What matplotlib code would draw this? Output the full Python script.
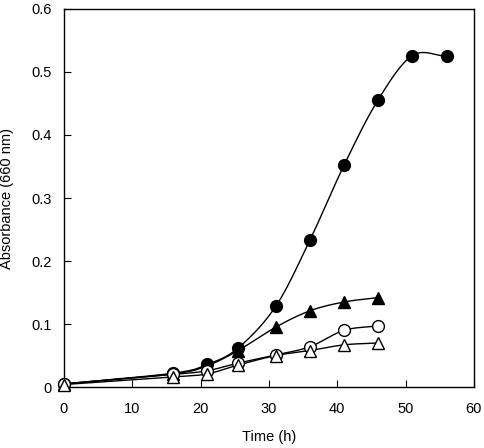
import numpy as np
from matplotlib import pyplot as plt

plt.rcParams['font.family'] = ['Liberation Sans', 'DejaVu Sans']

t_long = [0, 16, 21, 25.5, 31, 36, 41, 46, 51, 56]
filled_circle = [0.005, 0.022, 0.036, 0.062, 0.128, 0.233, 0.352, 0.456, 0.526, 0.525]

t_short = [0, 16, 21, 25.5, 31, 36, 41, 46]
filled_tri = [0.005, 0.021, 0.034, 0.058, 0.095, 0.121, 0.135, 0.142]
open_circle = [0.005, 0.020, 0.026, 0.038, 0.051, 0.064, 0.090, 0.097]
open_tri = [0.004, 0.016, 0.021, 0.035, 0.050, 0.058, 0.067, 0.070]


def smooth(x, y, n=20):
    # catmull-rom through the points, only for drawing the curve
    x = np.asarray(x, float)
    y = np.asarray(y, float)
    px = np.concatenate([[2 * x[0] - x[1]], x, [2 * x[-1] - x[-2]]])
    py = np.concatenate([[2 * y[0] - y[1]], y, [2 * y[-1] - y[-2]]])
    xs, ys = [], []
    for i in range(1, len(px) - 2):
        s = np.linspace(0, 1, n, endpoint=False)
        for p, out in ((px, xs), (py, ys)):
            p0, p1, p2, p3 = p[i - 1], p[i], p[i + 1], p[i + 2]
            out.extend(0.5 * (2 * p1 + (-p0 + p2) * s
                              + (2 * p0 - 5 * p1 + 4 * p2 - p3) * s ** 2
                              + (-p0 + 3 * p1 - 3 * p2 + p3) * s ** 3))
    xs.append(x[-1])
    ys.append(y[-1])
    return xs, ys


fig = plt.figure(figsize=(4.84, 4.48), dpi=100)
ax = fig.add_axes([0.132, 0.136, 0.847, 0.844])

series = [
    (t_long, filled_circle, 'o', 'black'),
    (t_short, filled_tri, '^', 'black'),
    (t_short, open_circle, 'o', 'white'),
    (t_short, open_tri, '^', 'white'),
]
for x, y, m, fc in series:
    sx, sy = smooth(x, y)
    ax.plot(sx, sy, color='black', lw=1.0, zorder=2, clip_on=False)
    ax.plot(x, y, ls='none', marker=m, ms=8.5, mfc=fc, mec='black', mew=1.0,
            zorder=3, clip_on=False)

ax.set_xlim(0, 60)
ax.set_ylim(0, 0.6)
ax.set_xticks(range(0, 61, 10))
ax.set_yticks(np.arange(0, 0.61, 0.1))
ax.set_yticklabels(['0', '0.1', '0.2', '0.3', '0.4', '0.5', '0.6'])
ax.tick_params(direction='in', length=5, labelsize=10.5)
ax.tick_params(axis='x', pad=11)
ax.tick_params(axis='y', pad=9)
ax.set_xlabel('Time (h)', fontsize=10.5, labelpad=10)
ax.set_ylabel('Absorbance (660 nm)', fontsize=10.5, labelpad=12)
for sp in ax.spines.values():
    sp.set_linewidth(1.0)

fig.savefig('out.png', dpi=100)
